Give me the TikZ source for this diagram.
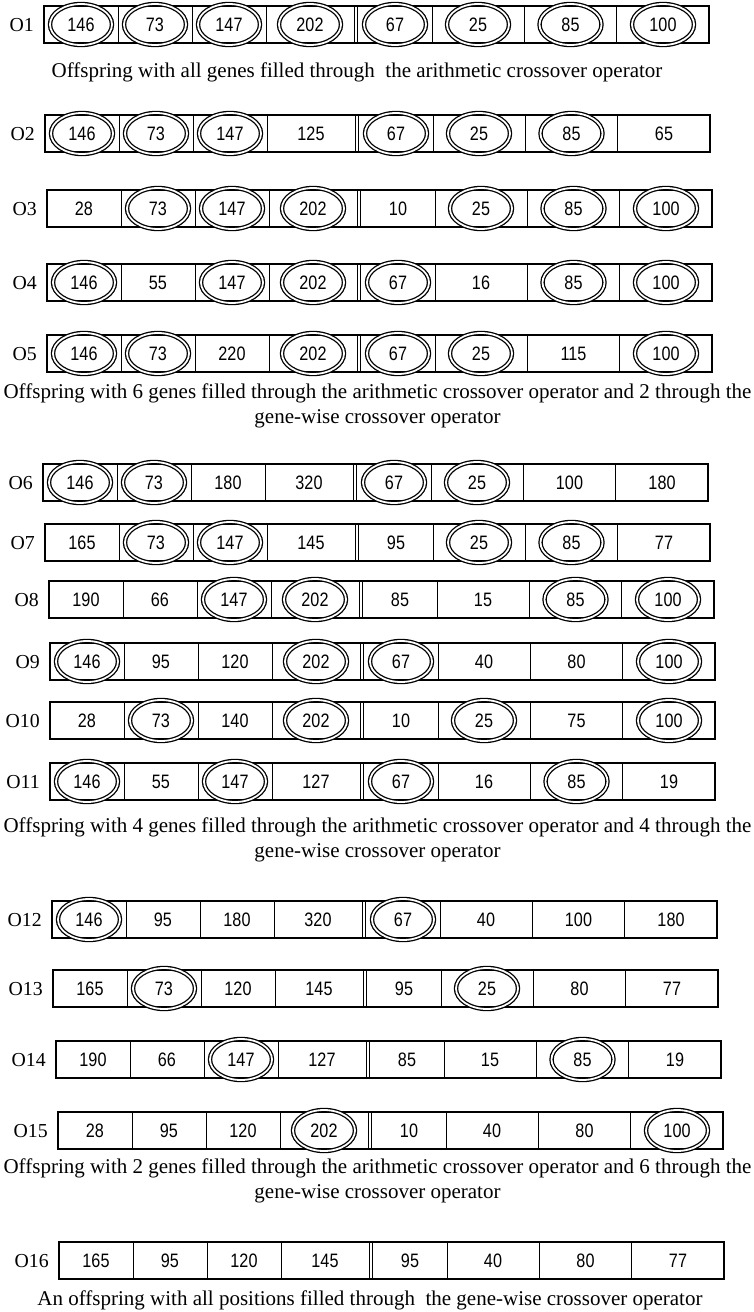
\documentclass[tikz,border=0pt]{standalone}
\usepackage{fontspec}
\setmainfont{Liberation Serif}
\newfontfamily\numfont{Liberation Sans}
\usetikzlibrary{shapes.geometric}
\tikzset{
 boxline/.style={line width=1.4pt},
 divline/.style={line width=0.9pt},
 genenum/.style={font=\numfont\fontsize{16.2}{18}\selectfont, inner sep=0pt},
 kept/.style={ellipse, draw, double, line width=1.3pt, double distance=1.8pt, minimum width=62pt, minimum height=41pt, inner sep=0pt},
 rowlab/.style={font=\fontsize{19.8}{22}\selectfont, inner sep=0pt, anchor=east},
 caption/.style={font=\fontsize{21}{25}\selectfont, align=center, inner sep=0pt},
}
\newcommand\generow[4]{%
 \begin{scope}[shift={(#2,#3)}]
  \draw[boxline] (0,0) rectangle (665,37);
  \foreach \d in {74.5,148,222,310,313.5,388,480.5,572.5} \draw[divline] (\d,0) -- (\d,35.5);
  \node[rowlab] (#1) at (-10,19) {#1};
  \foreach \v/\c [count=\i] in {#4} {
    \pgfmathsetmacro\cxx{{37,111,185,266,351,434,526.5,619}[\i-1]}
    \ifnum\c=1 \node[kept] (#1-e\i) at (\cxx,18.5) {};\fi
    \node[genenum] (#1-\i) at (\cxx,18.5) {\scalebox{1}[1.2]{\v}};
  }
 \end{scope}}
\begin{document}
\begin{tikzpicture}[x=1pt,y=-1pt]
\useasboundingbox (0,0) rectangle (754,1312);
\generow{O1}{44}{6}{146/1,73/1,147/1,202/1,67/1,25/1,85/1,100/1}
\node[caption] (cap1) at (357,72) {Offspring with all genes filled through\ \ the arithmetic crossover operator};
\generow{O2}{45}{115}{146/1,73/1,147/1,125/0,67/1,25/1,85/1,65/0}
\generow{O3}{47}{190}{28/0,73/1,147/1,202/1,10/0,25/1,85/1,100/1}
\generow{O4}{47}{264}{146/1,55/0,147/1,202/1,67/1,16/0,85/1,100/1}
\generow{O5}{47}{335}{146/1,73/1,220/0,202/1,67/1,25/1,115/0,100/1}
\node[caption] (cap2) at (377.5,405.5) {Offspring with 6 genes filled through the arithmetic crossover operator and 2 through the\\gene-wise crossover operator};
\generow{O6}{43}{464}{146/1,73/1,180/0,320/0,67/1,25/1,100/0,180/0}
\generow{O7}{45}{524}{165/0,73/1,147/1,145/0,95/0,25/1,85/1,77/0}
\generow{O8}{49}{581}{190/0,66/0,147/1,202/1,85/0,15/0,85/1,100/1}
\generow{O9}{50}{643}{146/1,95/0,120/0,202/1,67/1,40/0,80/0,100/1}
\generow{O10}{50}{702}{28/0,73/1,140/0,202/1,10/0,25/1,75/0,100/1}
\generow{O11}{50}{763}{146/1,55/0,147/1,127/0,67/1,16/0,85/1,19/0}
\node[caption] (cap3) at (377.5,839.5) {Offspring with 4 genes filled through the arithmetic crossover operator and 4 through the\\gene-wise crossover operator};
\generow{O12}{52}{901}{146/1,95/0,180/0,320/0,67/1,40/0,100/0,180/0}
\generow{O13}{53}{970}{165/0,73/1,120/0,145/0,95/0,25/1,80/0,77/0}
\generow{O14}{56}{1041}{190/0,66/0,147/1,127/0,85/0,15/0,85/1,19/0}
\generow{O15}{58}{1112}{28/0,95/0,120/0,202/1,10/0,40/0,80/0,100/1}
\node[caption] (cap4) at (377.5,1181) {Offspring with 2 genes filled through the arithmetic crossover operator and 6 through the\\gene-wise crossover operator};
\generow{O16}{59}{1242}{165/0,95/0,120/0,145/0,95/0,40/0,80/0,77/0}
\node[caption] (cap5) at (370,1300) {An offspring with all positions filled through\ \ the gene-wise crossover operator};
\end{tikzpicture}
\end{document}
